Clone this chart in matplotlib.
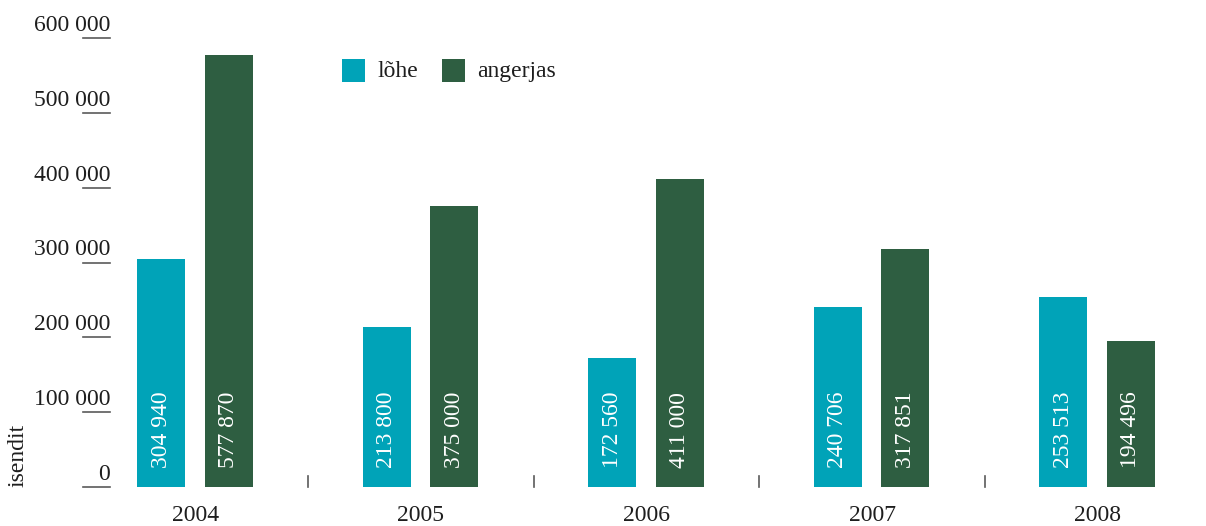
import matplotlib
matplotlib.use("Agg")
import matplotlib.pyplot as plt
import matplotlib.transforms as mtransforms
from matplotlib.patches import Rectangle

years = ["2004", "2005", "2006", "2007", "2008"]
lohe = [304940, 213800, 172560, 240706, 253513]
angerjas = [577870, 375000, 411000, 317851, 194496]
yticks = [0, 100000, 200000, 300000, 400000, 500000, 600000]
series_names = ["lõhe", "angerjas"]
ylabel = "isendit"

TEAL = "#00a3b8"
GREEN = "#2e5e41"
TEXT = "#1e1e1e"
RULE = "#5a5a5a"

plt.rcParams["font.family"] = ["Liberation Serif", "DejaVu Serif"]
FS = 17


def fmt(v):
    return f"{v:,}".replace(",", " ")


W, H = 1206, 526
fig = plt.figure(figsize=(W / 100, H / 100), dpi=100)
left_px, right_px, bottom_px, top_px = 110, 1206, 487, 38
ax = fig.add_axes([left_px / W, 1 - bottom_px / H,
                   (right_px - left_px) / W, (bottom_px - top_px) / H])
group_px = 225.5
first_center_px = 195.5
ax.set_xlim((left_px - first_center_px) / group_px,
            (right_px - first_center_px) / group_px)
ax.set_ylim(0, 600000)
ax.axis("off")

bw = 0.213
off_l, off_a = -0.151, 0.148
xs = range(len(years))
ax.bar([x + off_l for x in xs], lohe, width=bw, color=TEAL, linewidth=0)
ax.bar([x + off_a for x in xs], angerjas, width=bw, color=GREEN, linewidth=0)

# value labels, written upwards from near the base of each bar
lift = mtransforms.offset_copy(ax.transData, fig=fig, x=0, y=19, units="dots")
for x, a, b in zip(xs, lohe, angerjas):
    for xo, v in ((x + off_l, a), (x + off_a, b)):
        ax.text(xo, 0, fmt(v), rotation=90, ha="center", va="bottom",
                color="white", fontsize=FS, transform=lift)

# y-axis: short rules with labels sitting above them
blend = mtransforms.blended_transform_factory(fig.transFigure, ax.transData)
up = mtransforms.offset_copy(blend, fig=fig, x=0, y=7, units="dots")
for t in yticks:
    ax.plot([83 / W, 110 / W], [t, t], color=RULE, lw=1.2,
            transform=blend, clip_on=False)
    ax.text(110 / W, t, fmt(t), ha="right", va="baseline", fontsize=FS,
            color=TEXT, transform=up)

# separators between year groups
sep = mtransforms.blended_transform_factory(ax.transData, fig.transFigure)
for i in range(len(years) - 1):
    ax.plot([i + 0.5, i + 0.5], [1 - 476 / H, 1 - 487 / H], color=RULE,
            lw=1.2, transform=sep, clip_on=False)

for i, y in enumerate(years):
    ax.text(i, 1 - 521 / H, y, ha="center", va="baseline", fontsize=FS,
            color=TEXT, transform=sep)

fig.text(18 / W, 1 - 487 / H, ylabel, rotation=90, ha="center", va="bottom",
         fontsize=FS, color=TEXT)

# legend
for (x0, x1), name, col in (((342, 377), series_names[0], TEAL),
                            ((442, 477), series_names[1], GREEN)):
    fig.patches.append(Rectangle((x0 / W, 1 - 82 / H), 23 / W, 23 / H,
                                 transform=fig.transFigure, color=col,
                                 linewidth=0))
    fig.text(x1 / W, 1 - 77 / H, name, ha="left", va="baseline",
             fontsize=FS, color=TEXT)

fig.savefig("out.png", dpi=100)
